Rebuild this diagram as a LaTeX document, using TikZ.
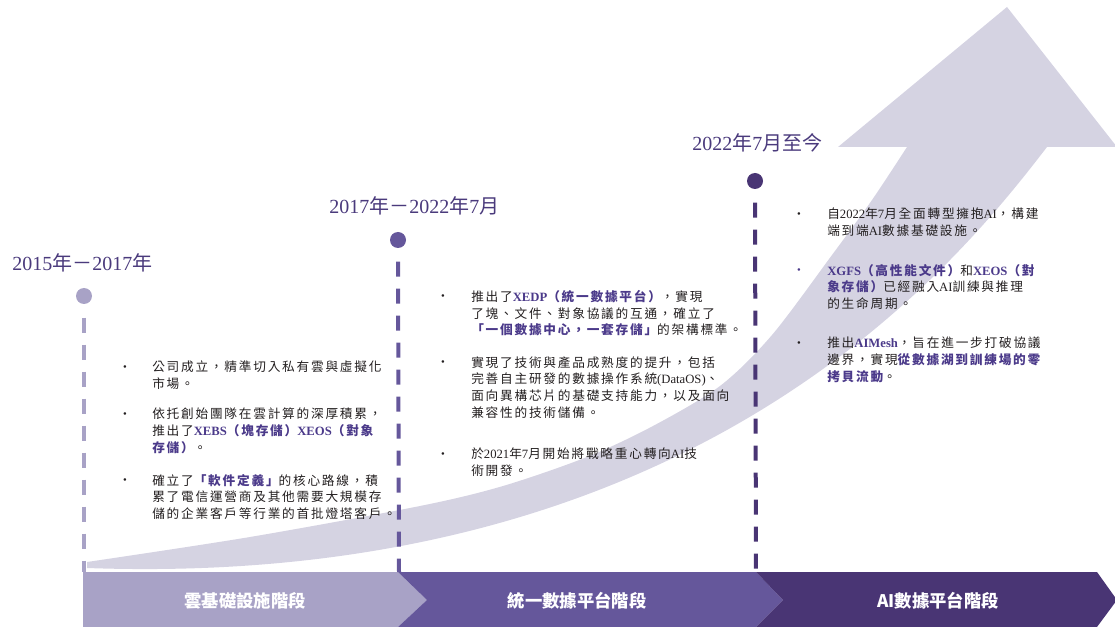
\documentclass[tikz,border=0pt]{standalone}
\usepackage{fontspec}
\setmainfont{Noto Sans CJK TC}
\newfontfamily\bodyfont{Noto Sans CJK TC}[LetterSpace=14]
\newfontfamily\latfont{Liberation Serif}
\newcommand{\lat}[1]{{\latfont #1}}
\newcommand{\hl}[1]{{\color{resalte}\bfseries #1}}

\definecolor{banda}{HTML}{D5D3E2}
\definecolor{fase1}{HTML}{A8A2C6}
\definecolor{fase2}{HTML}{65579B}
\definecolor{fase3}{HTML}{493574}
\definecolor{titulo}{HTML}{4A3A7C}
\definecolor{resalte}{HTML}{4B3A8A}
\definecolor{texto}{HTML}{231F20}

\tikzset{
  anio/.style={anchor=west, inner sep=0pt, text=titulo, font=\fontsize{15}{18}\selectfont},
  punto/.style={circle, inner sep=0pt, minimum size=12pt},
  guia/.style={line width=3pt, dash pattern=on 11.25pt off 9pt},
  parrafo/.style={anchor=north west, inner sep=0pt, align=left, text=texto,
    font=\bodyfont\fontsize{9.5}{12.5}\selectfont},
  vineta/.style={inner sep=0pt, text=texto, font=\fontsize{8}{10}\selectfont},
  fase/.style={text=white, font=\bfseries\fontsize{13}{15}\selectfont}
}

\begin{document}
\begin{tikzpicture}[x=0.75pt, y=-0.75pt]
    \useasboundingbox (0,0) rectangle (1115,627);

    % Flecha de fondo
    \fill[banda] plot[smooth] coordinates {(87,562) (250,537) (420,506) (503,486)
        (587,457) (653,426) (720,386) (772,335) (832,255) (872,200) (907,147)}
      -- (838,147) -- (1007,7) -- (1117,147) -- (1047,147)
      .. controls (960,260) and (700,590) .. (87,568) -- cycle;

    % Barra de fases
    \fill[fase1] (83,572) -- (398,572) -- (427,600) -- (398,627) -- (83,627) -- cycle;
    \fill[fase2] (398,572) -- (756,572) -- (783,600) -- (756,627) -- (398,627) -- (427,600) -- cycle;
    \fill[fase3] (756,572) -- (1097,572) -- (1117,600) -- (1097,627) -- (756,627) -- (783,600) -- cycle;
    \node[fase] (s1) at (245,601) {雲基礎設施階段};
    \node[fase] (s2) at (577,601) {統一數據平台階段};
    \node[fase] (s3) at (938,601) {AI數據平台階段};

    % Puntos y guías
    \node[punto, fill=fase1] (d1) at (84,296) {};
    \node[punto, fill=fase2] (d2) at (398,240) {};
    \node[punto, fill=fase3] (d3) at (755,181) {};
    \coordinate (f1) at (84,572);
    \coordinate (f2) at (399,572);
    \coordinate (f3) at (756,572);
    \draw[guia, fase1] ([yshift=-10pt]d1.south) -- (f1);
    \draw[guia, fase2] ([yshift=-10pt]d2.south) -- (f2);
    \draw[guia, fase3] ([yshift=-10pt]d3.south) -- (f3);

    % Fechas
    \node[anio] (h1) at (12,263) {\lat{2015}年－\lat{2017}年};
    \node[anio] (h2) at (329,206) {\lat{2017}年－\lat{2022}年\lat{7}月};
    \node[anio] (h3) at (692,143) {\lat{2022}年\lat{7}月至今};

    % Etapa 1
    \node[vineta] (b11) at (125,368) {\lat{•}};
    \node[parrafo] (t11) at (152,361) {公司成立，精準切入私有雲與虛擬化\\市場。};
    \node[vineta] (b12) at (125,415) {\lat{•}};
    \node[parrafo] (t12) at (152,408) {依托創始團隊在雲計算的深厚積累，\\推出了\hl{\lat{XEBS}（塊存儲）\lat{XEOS}（對象}\\\hl{存儲）}。};
    \node[vineta] (b13) at (125,481) {\lat{•}};
    \node[parrafo] (t13) at (152,474) {確立了\hl{「軟件定義」}的核心路線，積\\累了電信運營商及其他需要大規模存\\儲的企業客戶等行業的首批燈塔客戶。};

    % Etapa 2
    \node[vineta] (b21) at (443,297) {\lat{•}};
    \node[parrafo] (t21) at (471,290) {推出了\hl{\lat{XEDP}（統一數據平台）}，實現\\了塊、文件、對象協議的互通，確立了\\\hl{「一個數據中心，一套存儲」}的架構標準。};
    \node[vineta] (b22) at (443,363) {\lat{•}};
    \node[parrafo] (t22) at (471,356) {實現了技術與產品成熟度的提升，包括\\完善自主研發的數據操作系統\lat{(DataOS)}、\\面向異構芯片的基礎支持能力，以及面向\\兼容性的技術儲備。};
    \node[vineta] (b23) at (443,455) {\lat{•}};
    \node[parrafo] (t23) at (471,448) {於\lat{2021}年\lat{7}月開始將戰略重心轉向\lat{AI}技\\術開發。};

    % Etapa 3
    \node[vineta] (b31) at (799,215) {\lat{•}};
    \node[parrafo] (t31) at (827,208) {自\lat{2022}年\lat{7}月全面轉型擁抱\lat{AI}，構建\\端到端\lat{AI}數據基礎設施。};
    \node[vineta, text=resalte] (b32) at (799,271) {\lat{•}};
    \node[parrafo] (t32) at (827,264) {\hl{\lat{XGFS}（高性能文件）}和\hl{\lat{XEOS}（對}\\\hl{象存儲）}已經融入\lat{AI}訓練與推理\\的生命周期。};
    \node[vineta] (b33) at (799,344) {\lat{•}};
    \node[parrafo] (t33) at (827,337) {推出\hl{\lat{AIMesh}}，旨在進一步打破協議\\邊界，實現\hl{從數據湖到訓練場的零}\\\hl{拷貝流動}。};

\end{tikzpicture}
\end{document}
